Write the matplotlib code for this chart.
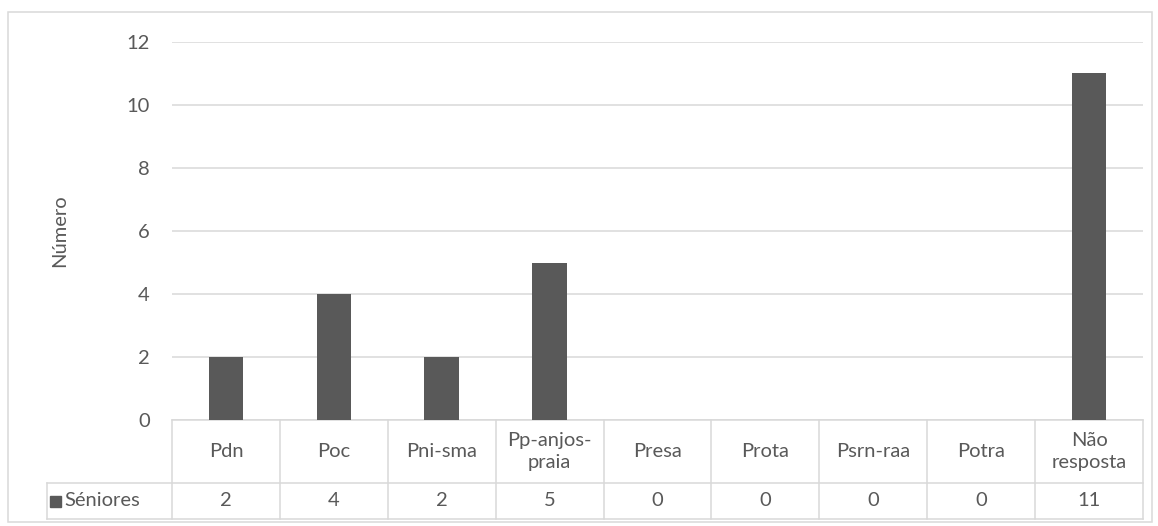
import numpy as np
import matplotlib.pyplot as plt
from matplotlib.patches import Rectangle

# data
categories = ["Pdn", "Poc", "Pni-sma", "Pp-anjos-\npraia", "Presa", "Prota",
              "Psrn-raa", "Potra", "Não\nresposta"]
seniores = [2, 4, 2, 5, 0, 0, 0, 0, 11]
series_name = "Séniores"
y_ticks = [0, 2, 4, 6, 8, 10, 12]

W, H = 1158, 526
bar_col = "#595959"
grid_col = "#D9D9D9"
txt_col = "#595959"
fs = 14.5
plt.rcParams['font.family'] = ['Lato', 'DejaVu Sans']

fig = plt.figure(figsize=(W / 100, H / 100), dpi=100)

# plot area in pixels
left, right, top, bottom = 172, 1143, 42, 420
ax = fig.add_axes([left / W, (H - bottom) / H, (right - left) / W, (bottom - top) / H])

x = np.arange(len(categories))
ax.bar(x, seniores, width=0.32, color=bar_col, zorder=3)
ax.set_xlim(-0.5, len(categories) - 0.5)
ax.set_ylim(0, 12)
ax.set_yticks(y_ticks)
ax.set_xticks([])
ax.grid(axis='y', color=grid_col, lw=1.1, zorder=0)
for s in ax.spines.values():
    s.set_visible(False)
ax.tick_params(axis='y', length=0, pad=16, labelsize=fs, labelcolor=txt_col)
ax.set_ylabel("Número", fontsize=fs, color=txt_col, labelpad=42)

# data table under the axis
ah = bottom - top
aw = right - left
r1 = -(483 - bottom) / ah
r2 = -(519 - bottom) / ah
leg_x = (47 - left) / aw
tr = ax.get_xaxis_transform()
lk = dict(color=grid_col, lw=1.1, clip_on=False)

ax.plot([-0.5, len(categories) - 0.5], [0, 0], transform=tr, **lk)
ax.plot([leg_x, 1], [r1, r1], transform=ax.transAxes, **lk)
ax.plot([leg_x, 1], [r2, r2], transform=ax.transAxes, **lk)
ax.plot([leg_x, leg_x], [r1, r2], transform=ax.transAxes, **lk)
for b in np.arange(len(categories) + 1) - 0.5:
    ax.plot([b, b], [0, r2], transform=tr, **lk)

for xi, (c, v) in enumerate(zip(categories, seniores)):
    ax.text(xi, r1 / 2, c, transform=tr, ha='center', va='center',
            fontsize=fs, color=txt_col, linespacing=1.4)
    ax.text(xi, (r1 + r2) / 2, str(v), transform=tr, ha='center', va='center',
            fontsize=fs, color=txt_col)

sq = 11 / ah
ax.add_patch(Rectangle((leg_x + 3 / aw, (r1 + r2) / 2 - sq / 2), 11 / aw, sq,
                       transform=ax.transAxes, color=bar_col, clip_on=False))
ax.text(leg_x + 17 / aw, (r1 + r2) / 2, series_name, transform=ax.transAxes,
        ha='left', va='center', fontsize=fs, color=txt_col)

# chart border
fig.add_artist(Rectangle((8 / W, 4 / H), (1152 - 8) / W, (522 - 12) / H,
                         transform=fig.transFigure, fill=False, ec=grid_col, lw=1.1))

fig.savefig("out.png", dpi=100)
